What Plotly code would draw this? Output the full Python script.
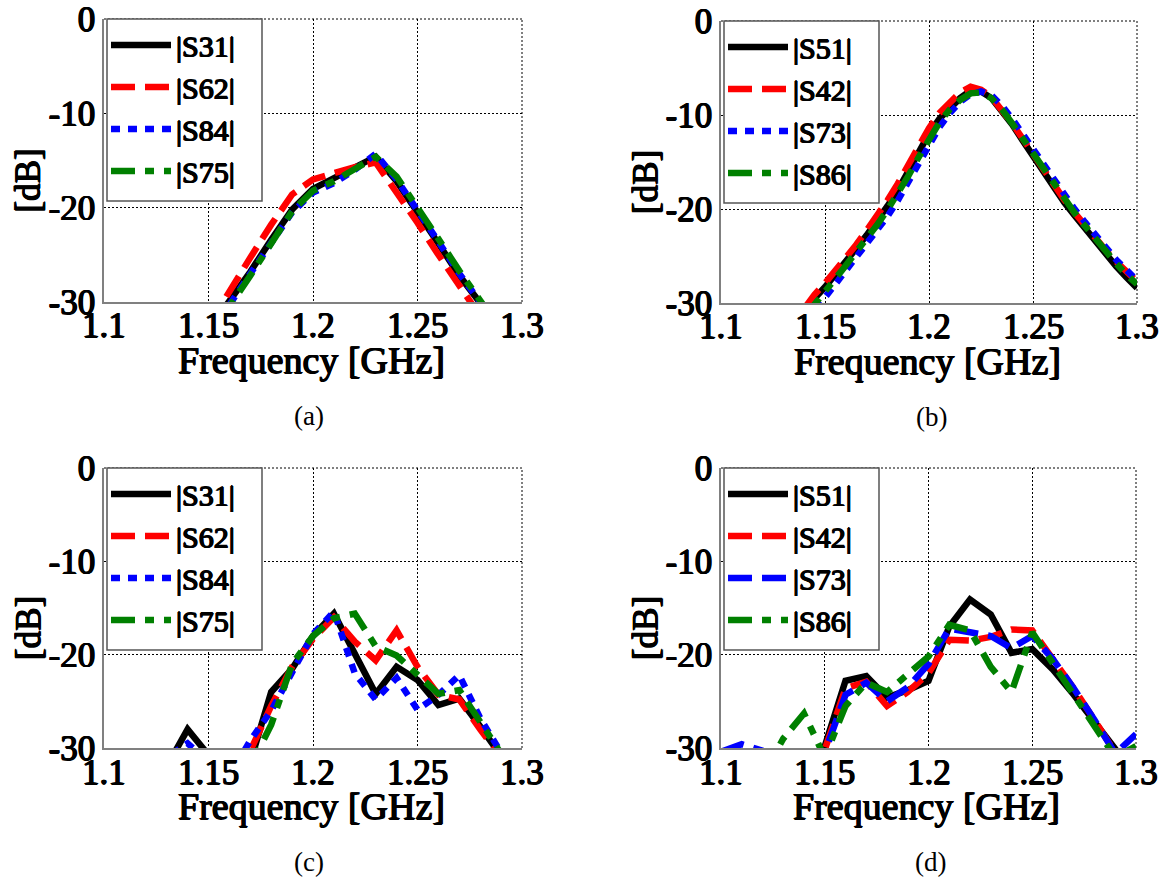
import plotly.graph_objects as go

# ---------------- data ----------------
# (a) measured transmission, ports 3-1 / 6-2 / 8-4 / 7-5
freq_a = [1.15, 1.16, 1.17, 1.18, 1.19, 1.20, 1.21, 1.22, 1.23, 1.24, 1.25, 1.26, 1.27, 1.28, 1.29]
a_s31 = [-33.0, -30.0, -26.8, -23.4, -20.2, -18.0, -16.9, -15.8, -14.6, -17.2, -20.4, -23.8, -27.2, -30.1, -33.0]
a_s62 = [-32.5, -28.8, -25.3, -21.8, -18.6, -17.0, -16.3, -15.7, -15.2, -18.3, -21.6, -25.0, -28.4, -31.5, -34.0]
a_s84 = [-33.0, -30.3, -27.0, -23.6, -20.5, -18.4, -17.4, -16.0, -14.3, -17.0, -20.2, -23.6, -27.0, -30.0, -33.0]
a_s75 = [-33.5, -30.5, -27.2, -23.7, -20.4, -18.2, -17.2, -15.9, -14.6, -16.7, -19.9, -23.3, -26.7, -29.8, -33.0]

# (b) ports 5-1 / 4-2 / 7-3 / 8-6
freq_b = [1.140, 1.145, 1.150, 1.155, 1.160, 1.165, 1.170, 1.175, 1.180, 1.185, 1.190,
          1.195, 1.200, 1.205, 1.210, 1.215, 1.220, 1.225, 1.230, 1.235, 1.240, 1.245,
          1.250, 1.255, 1.260, 1.265, 1.270, 1.275, 1.280, 1.285, 1.290, 1.295, 1.300]
b_s51 = [-31.0, -29.5, -28.3, -27.0, -25.6, -24.2, -22.8, -21.3, -19.7, -18.0, -16.0,
         -14.0, -12.0, -10.4, -9.2, -8.2, -7.4, -7.5, -8.2, -9.5, -11.0, -12.7,
         -14.4, -16.2, -17.8, -19.3, -20.7, -22.1, -23.5, -24.9, -26.1, -27.3, -28.4]
b_s42 = [-30.6, -29.1, -27.9, -26.6, -25.2, -23.8, -22.3, -20.8, -19.1, -17.3, -15.3,
         -13.3, -11.4, -9.8, -8.6, -7.6, -7.0, -7.3, -8.1, -9.4, -10.9, -12.5,
         -14.2, -15.9, -17.5, -19.0, -20.4, -21.8, -23.1, -24.4, -25.6, -26.7, -27.7]
b_s73 = [-32.0, -30.8, -29.4, -28.0, -26.6, -25.2, -23.8, -22.3, -20.8, -19.1, -17.2,
         -15.2, -13.1, -11.3, -9.8, -8.6, -7.8, -7.5, -7.9, -9.0, -10.4, -12.0,
         -13.7, -15.4, -17.0, -18.5, -20.0, -21.4, -22.8, -24.1, -25.4, -26.5, -27.6]
b_s86 = [-31.5, -30.2, -28.8, -27.4, -26.0, -24.6, -23.2, -21.7, -20.1, -18.4, -16.5,
         -14.5, -12.5, -10.8, -9.4, -8.4, -7.7, -7.6, -8.2, -9.4, -10.9, -12.5,
         -14.2, -15.9, -17.5, -19.0, -20.4, -21.8, -23.2, -24.5, -25.8, -27.0, -28.0]

# (c) ports 3-1 / 6-2 / 8-4 / 7-5, second configuration
freq_c = [1.12, 1.13, 1.14, 1.15, 1.16, 1.17, 1.18, 1.19, 1.20, 1.21,
          1.22, 1.23, 1.24, 1.25, 1.26, 1.27, 1.28, 1.29, 1.30]
c_s31 = [-34.0, -32.0, -28.0, -30.9, -33.5, -31.5, -24.0, -21.5, -18.0, -15.6,
         -19.8, -24.2, -21.3, -22.7, -25.4, -24.7, -27.7, -31.0, -34.0]
c_s62 = [-37.0, -37.0, -36.0, -36.0, -34.0, -30.3, -25.5, -21.3, -18.3, -16.0,
         -18.6, -20.6, -17.4, -21.3, -24.3, -24.8, -28.0, -31.0, -34.0]
c_s84 = [-33.0, -31.0, -29.5, -31.5, -33.0, -29.2, -26.0, -22.0, -17.8, -15.4,
         -22.0, -24.8, -22.5, -25.9, -24.3, -22.2, -26.8, -30.5, -34.0]
c_s75 = [-37.0, -37.0, -37.0, -37.0, -36.0, -32.0, -27.5, -21.0, -18.0, -16.1,
         -15.6, -19.1, -20.1, -22.2, -24.2, -23.8, -27.2, -30.5, -34.0]

# (d) ports 5-1 / 4-2 / 7-3 / 8-6, second configuration
freq_d = [1.10, 1.11, 1.12, 1.13, 1.14, 1.15, 1.16, 1.17, 1.18, 1.19, 1.20,
          1.21, 1.22, 1.23, 1.24, 1.25, 1.26, 1.27, 1.28, 1.29, 1.30]
d_s51 = [-36.0, -36.0, -36.0, -35.0, -33.0, -29.8, -22.8, -22.3, -24.6, -23.8, -22.8,
         -17.0, -14.1, -15.7, -19.8, -19.4, -21.6, -24.3, -27.3, -30.5, -33.0]
d_s42 = [-37.0, -37.0, -37.0, -36.0, -34.0, -30.2, -23.6, -22.9, -25.5, -24.0, -22.0,
         -18.4, -18.5, -18.1, -17.3, -17.4, -20.5, -23.6, -27.0, -30.6, -34.0]
d_s73 = [-30.4, -29.6, -30.3, -32.0, -33.0, -30.5, -24.3, -23.0, -25.0, -23.5, -21.0,
         -17.2, -17.6, -18.0, -19.3, -18.0, -20.5, -23.6, -27.0, -30.6, -28.5]
d_s86 = [-36.0, -35.0, -33.0, -29.0, -26.3, -31.0, -25.5, -23.0, -24.0, -22.0, -20.2,
         -16.8, -17.4, -21.3, -24.0, -17.6, -21.0, -24.3, -28.0, -31.0, -29.8]

x_ticks = [1.1, 1.15, 1.2, 1.25, 1.3]
x_tick_text = ["1.1", "1.15", "1.2", "1.25", "1.3"]
y_ticks = [-30, -20, -10, 0]
y_tick_text = ["-30", "-20", "-10", "0"]
captions = ["(a)", "(b)", "(c)", "(d)"]

# ---------------- styling ----------------
W, H = 1166, 877
SERIF = "Liberation Serif"
# heavy strokes for the serif labels (thickened with a tight text shadow)
HEAVY = "0.7px 0 0 #000, -0.7px 0 0 #000, 0 0.5px 0 #000, 0 -0.3px 0 #000"
BLACK, RED, BLUE, GREEN = "#000000", "#ff0000", "#0000ff", "#008000"
SOLID = "solid"
DASH = "24px,10px"
DOT = "9px,8px"
DASHDOT = "24px,10px,9px,10px"
LW = 6.5
LEG_W, LEG_H = 155, 182   # legend frame size in px


def fx(p):
    return p / W


def fy(p):
    return 1 - p / H


def heavy_font(size):
    return dict(family=SERIF, size=size, color="black", shadow=HEAVY)


# pixel boxes of the four plot areas: (left, right, top, bottom)
boxes = [(104, 522, 19, 302), (721, 1137, 21, 303), (104, 522, 468, 748), (721, 1136, 468, 748)]

panels = [
    (freq_a, [("|S31|", a_s31, BLACK, SOLID), ("|S62|", a_s62, RED, DASH),
              ("|S84|", a_s84, BLUE, DOT), ("|S75|", a_s75, GREEN, DASHDOT)]),
    (freq_b, [("|S51|", b_s51, BLACK, SOLID), ("|S42|", b_s42, RED, DASH),
              ("|S73|", b_s73, BLUE, DOT), ("|S86|", b_s86, GREEN, DASHDOT)]),
    (freq_c, [("|S31|", c_s31, BLACK, SOLID), ("|S62|", c_s62, RED, DASH),
              ("|S84|", c_s84, BLUE, DOT), ("|S75|", c_s75, GREEN, DASHDOT)]),
    (freq_d, [("|S51|", d_s51, BLACK, SOLID), ("|S42|", d_s42, RED, DASH),
              ("|S73|", d_s73, BLUE, DASH), ("|S86|", d_s86, GREEN, DASHDOT)]),
]

fig = go.Figure()
layout = dict(
    width=W, height=H,
    margin=dict(l=0, r=0, t=0, b=0, pad=0, autoexpand=False),
    paper_bgcolor="white", plot_bgcolor="white",
    font=dict(family=SERIF, size=34, color="black"),
    showlegend=True,
)
annotations = []
shapes = []

for i, ((freq, series), (l, r, t, b)) in enumerate(zip(panels, boxes)):
    n = "" if i == 0 else str(i + 1)
    xa, ya = "x" + n, "y" + n
    leg = "legend" + n
    for name, vals, color, dash in series:
        fig.add_trace(go.Scatter(
            x=freq, y=vals, name=name, mode="lines",
            line=dict(color=color, width=LW, dash=dash),
            xaxis=xa, yaxis=ya, legend=leg,
        ))
    axis_common = dict(
        showline=True, linecolor="#808080", linewidth=1.5, mirror=False,
        showgrid=True, gridcolor="black", gridwidth=1, griddash="2px,2px",
        zeroline=False, ticks="", ticklen=0, automargin=False,
        tickfont=heavy_font(35),
    )
    # frequency labels are placed as annotations on the x scale (tighter to the axis)
    layout["xaxis" + n] = dict(
        axis_common, domain=[fx(l), fx(r)], range=[1.1, 1.3],
        tickvals=x_ticks, showticklabels=False, anchor=ya,
    )
    layout["yaxis" + n] = dict(
        axis_common, domain=[fy(b), fy(t)], range=[-30, 0],
        tickvals=y_ticks, ticktext=y_tick_text, anchor=xa,
    )
    # legend entries sit in a framed white box drawn above the curves
    layout[leg] = dict(
        x=fx(l + 2), y=fy(t), xanchor="left", yanchor="top",
        bgcolor="rgba(0,0,0,0)", borderwidth=0,
        font=heavy_font(30),
        itemwidth=60,
    )
    shapes.append(dict(
        type="rect", xref="paper", yref="paper",
        x0=fx(l + 3), x1=fx(l + 3 + LEG_W), y0=fy(t + LEG_H), y1=fy(t),
        fillcolor="white", line=dict(color="#555555", width=1.5), layer="above",
    ))
    for tv, tt in zip(x_ticks, x_tick_text):
        annotations.append(dict(
            text=tt, x=tv, xref=xa, y=fy(b + 24), yref="paper",
            showarrow=False, xanchor="center", yanchor="middle",
            font=heavy_font(35),
        ))
    # dotted frame on the upper and right edges
    for x0, y0, x1, y1 in [(0, 1, 1, 1), (1, 0, 1, 1)]:
        shapes.append(dict(
            type="line", xref=xa + " domain", yref=ya + " domain",
            x0=x0, y0=y0, x1=x1, y1=y1,
            line=dict(color="black", width=1, dash="2px,2px"), layer="below",
        ))
    cx = (l + r) / 2
    annotations.append(dict(
        text="Frequency [GHz]", x=fx(cx - 2), y=fy(b + 58), xref="paper", yref="paper",
        showarrow=False, xanchor="center", yanchor="middle",
        font=heavy_font(38),
    ))
    annotations.append(dict(
        text="[dB]", x=fx(l - 76), y=fy((t + b) / 2 + 20), xref="paper", yref="paper",
        showarrow=False, xanchor="center", yanchor="middle", textangle=-90,
        font=heavy_font(35),
    ))
    annotations.append(dict(
        text=captions[i], x=fx(cx - 4 if i % 2 == 0 else cx + 2), y=fy(b + 114),
        xref="paper", yref="paper",
        showarrow=False, xanchor="center", yanchor="middle",
        font=dict(family=SERIF, size=27, color="black"),
    ))

layout["annotations"] = annotations
layout["shapes"] = shapes
fig.update_layout(**layout)
fig.write_html("out.html")
